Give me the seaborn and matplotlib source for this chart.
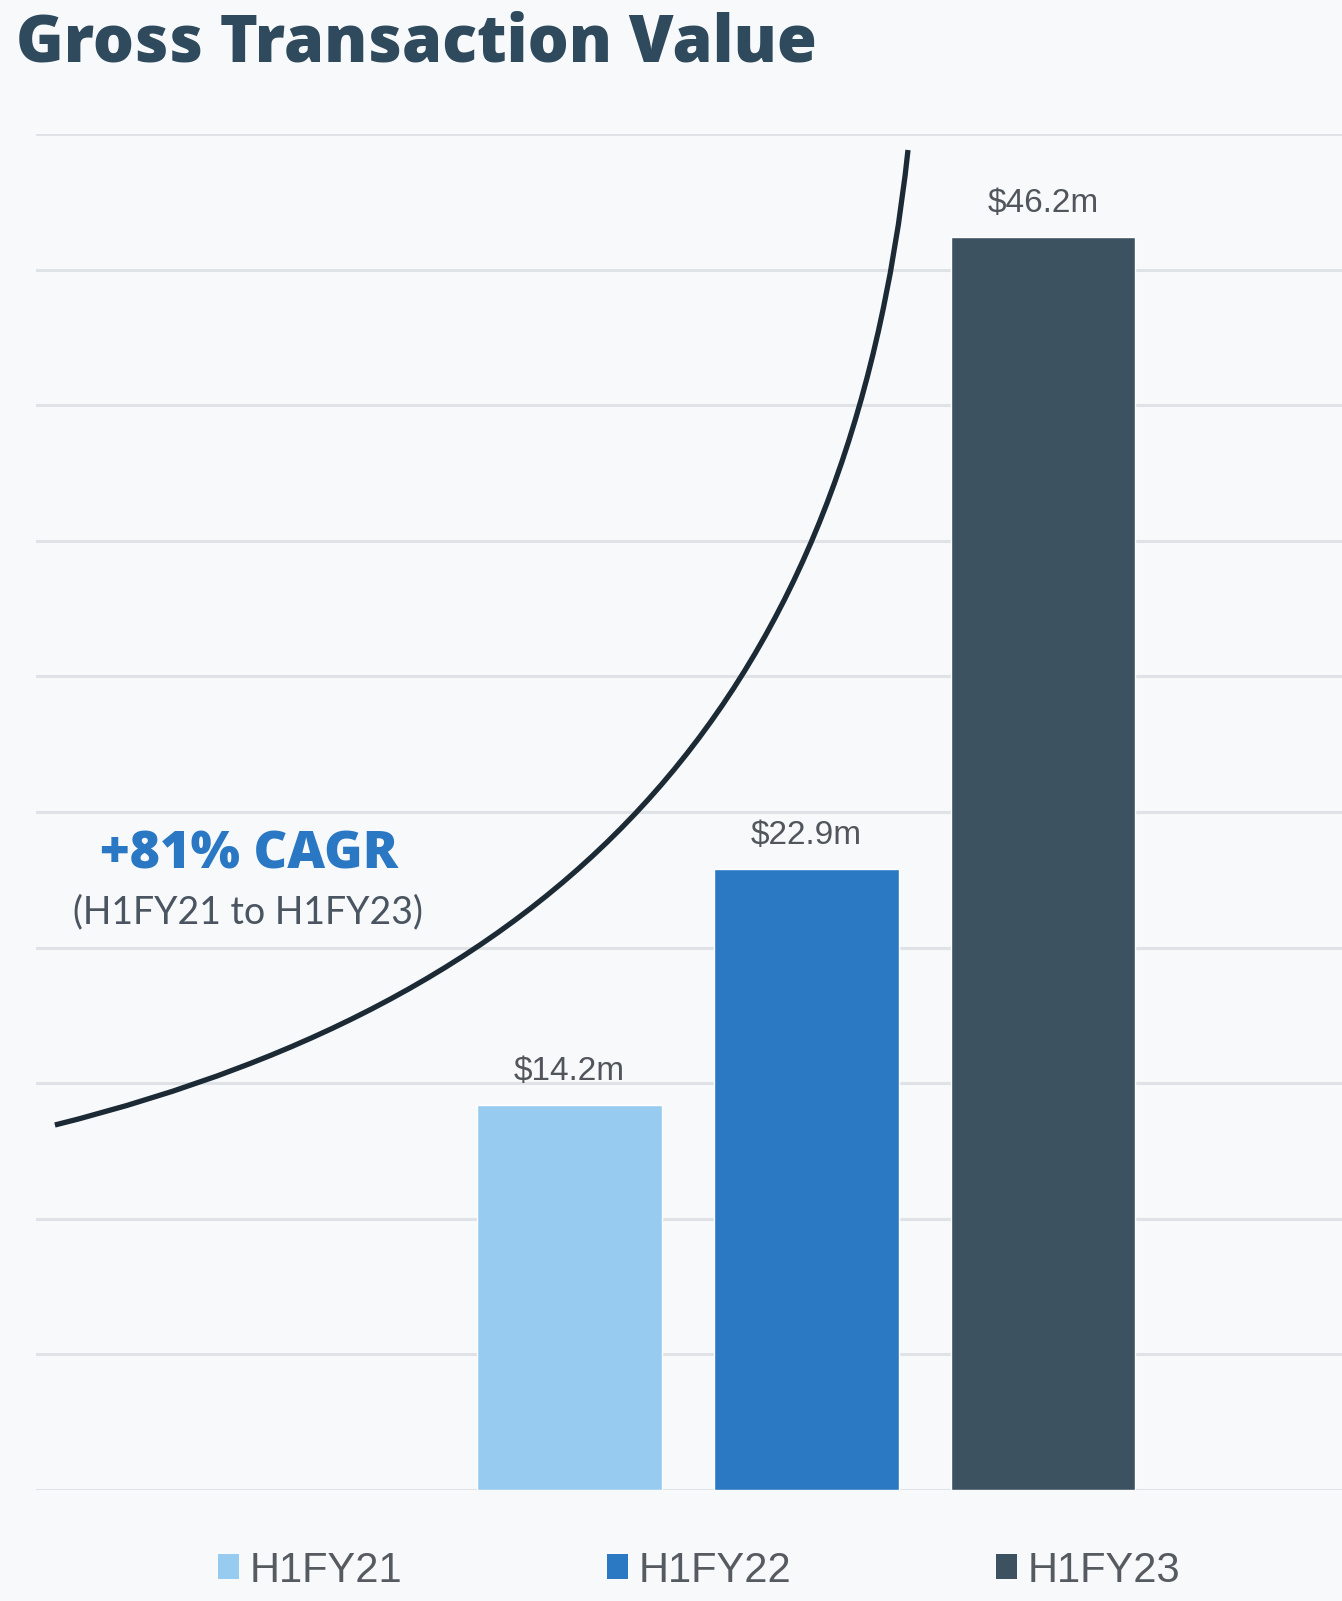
import matplotlib
matplotlib.use("Agg")
import matplotlib.pyplot as plt
from matplotlib.path import Path
from matplotlib.patches import PathPatch, Patch
import seaborn as sns
import pandas as pd

# Gross transaction value by half-year period ($m)
periods = ["H1FY21", "H1FY22", "H1FY23"]
gtv = [14.2, 22.9, 46.2]
value_labels = ["$14.2m", "$22.9m", "$46.2m"]
bar_colors = ["#97cbef", "#2b78c3", "#3c5261"]

# Growth arc: cubic Bezier control points (x in bar slots, y in $m)
arc_x = [-2.173, 0.030, 1.181, 1.430]
arc_y = [13.46, 18.28, 29.40, 49.41]

title = "Gross Transaction Value"
cagr_headline = "+81% CAGR"
cagr_range = "(H1FY21 to H1FY23)"

BG = "#f7f9fb"
GRID = "#dfe3e8"

sns.set_theme(style="white")
plt.rcParams["font.family"] = ["Liberation Sans", "DejaVu Sans"]

fig = plt.figure(figsize=(13.42, 16.01), dpi=100, facecolor=BG)
ax = fig.add_axes([0.0268, 0.0693, 0.9732, 0.8470])
ax.set_facecolor(BG)

df = pd.DataFrame({"period": periods, "gtv": gtv})
sns.barplot(data=df, x="period", y="gtv", hue="period", palette=bar_colors,
            width=0.78, legend=False, ax=ax, saturation=1, zorder=3)

ax.set_xlim(-2.253, 3.263)
ax.set_ylim(0, 50)
ax.set_yticks(range(0, 51, 5))
ax.yaxis.grid(True, color=GRID, linewidth=2.2, zorder=0)
ax.set_axisbelow(True)
ax.tick_params(left=False, bottom=False, labelleft=False, labelbottom=False)
ax.set_xlabel("")
ax.set_ylabel("")
for s in ax.spines.values():
    s.set_visible(False)

for cont, lab in zip(ax.containers, value_labels):
    ax.bar_label(cont, labels=[lab], padding=13, fontsize=24,
                 color="#50565c", fontfamily="Liberation Sans")

# Growth arc
verts = list(zip(arc_x, arc_y))
codes = [Path.MOVETO, Path.CURVE4, Path.CURVE4, Path.CURVE4]
ax.add_patch(PathPatch(Path(verts, codes), facecolor="none",
                       edgecolor="#1c2a35", linewidth=3.8, zorder=4,
                       capstyle="butt", clip_on=False))

fig.text(0.0119, 0.9613, title, fontsize=46.5, fontweight="extra bold",
         fontfamily="Open Sans", color="#2f4a5c", ha="left", va="baseline")

fig.text(0.1855, 0.4578, cagr_headline, fontsize=37.5, fontweight="extra bold",
         fontfamily="Open Sans", color="#2a78c3", ha="center", va="baseline")
fig.text(0.1848, 0.4235, cagr_range, fontsize=27,
         fontfamily="Lato", color="#4a5561", ha="center", va="baseline")

handles = [Patch(facecolor=c, edgecolor="none") for c in bar_colors]
fig.legend(handles, periods, loc="center", bbox_to_anchor=(0.521, 0.019),
           ncol=3, frameon=False, fontsize=30, labelcolor="#555b61",
           handlelength=0.5, handleheight=0.55, handletextpad=0.27,
           columnspacing=4.9, borderpad=0)

fig.savefig("out.png", dpi=100, facecolor=BG)
